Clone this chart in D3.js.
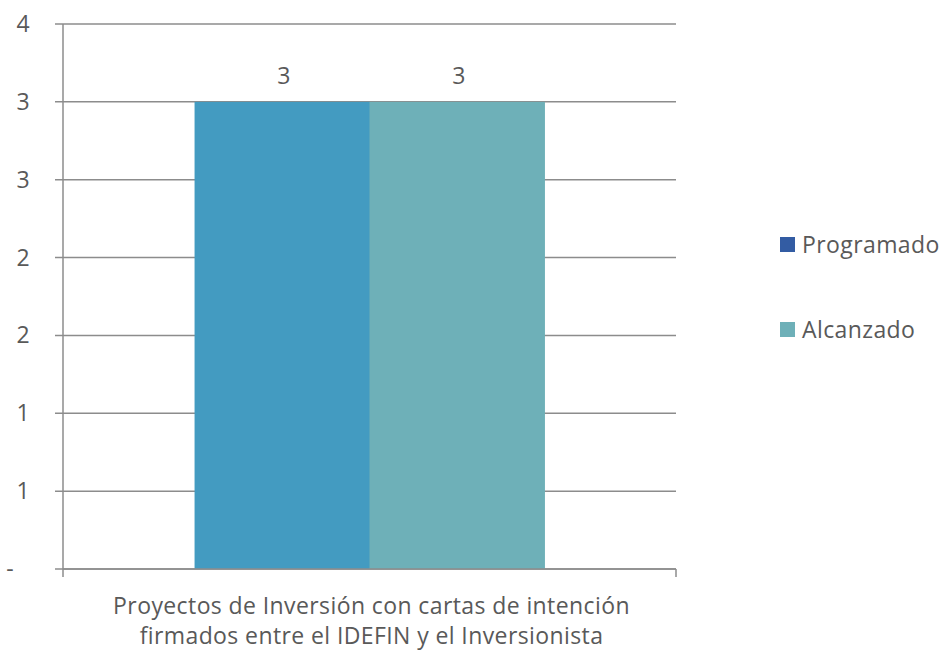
<!DOCTYPE html>
<html>
<head>
<meta charset="utf-8">
<script src="https://cdn.jsdelivr.net/npm/d3@7"></script>
<style>
  body { margin: 0; background: #fff; }
  text { font-family: "Open Sans", Lato, sans-serif; fill: #595959; letter-spacing: 0.4px; }
</style>
</head>
<body>
<div id="chart"></div>
<script>
// data
var categories = ["Proyectos de Inversión con cartas de intención firmados entre el IDEFIN y el Inversionista"];
var categoryLines = ["Proyectos de Inversión con cartas de intención", "firmados entre el IDEFIN y el Inversionista"];
var seriesNames = ["Programado", "Alcanzado"];
var programado = [3];
var alcanzado = [3];
var yTicks = [0, 0.5, 1, 1.5, 2, 2.5, 3, 3.5];
var barColors = ["#439BC1", "#6EB0B8"];
var legendColors = ["#335CA3", "#6EB0B8"];

var W = 946, H = 652;
var mLeft = 63, mRight = 676, mTop = 24, mBottom = 569;

var svg = d3.select("#chart")
  .append("svg")
    .attr("width", W)
    .attr("height", H);

var y = d3.scaleLinear().domain([0, 3.5]).range([mBottom, mTop]);
var x0 = d3.scaleBand().domain(categories).range([mLeft, mRight]).paddingInner(0).paddingOuter(0.376);
var x1 = d3.scaleBand().domain(seriesNames).range([0, x0.bandwidth()]);

// gridlines + y labels
var fmt = function(v) { return v === 0 ? "-" : String(Math.round(v + 1e-9)); };
svg.append("g")
  .selectAll("line")
  .data(yTicks)
  .enter()
  .append("line")
    .attr("x1", mLeft - 8)
    .attr("x2", mRight)
    .attr("y1", function(d) { return y(d); })
    .attr("y2", function(d) { return y(d); })
    .attr("stroke", "#8c8c8c")
    .attr("stroke-width", 1.5);

svg.append("g")
  .selectAll("text")
  .data(yTicks)
  .enter()
  .append("text")
    .attr("x", function(d) { return d === 0 ? 14 : 30; })
    .attr("y", function(d) { return y(d) + 8; })
    .attr("text-anchor", "end")
    .style("font-size", "23px")
    .text(fmt);

// bars
var rows = seriesNames.map(function(name, i) {
  return { name: name, value: (i === 0 ? programado : alcanzado)[0], color: barColors[i] };
});

svg.append("g")
  .selectAll("rect")
  .data(rows)
  .enter()
  .append("rect")
    .attr("x", function(d) { return x0(categories[0]) + x1(d.name); })
    .attr("width", x1.bandwidth() + 0.5)
    .attr("y", function(d) { return y(d.value); })
    .attr("height", function(d) { return y(0) - y(d.value); })
    .attr("fill", function(d) { return d.color; });

svg.append("g")
  .selectAll("text")
  .data(rows)
  .enter()
  .append("text")
    .attr("x", function(d) { return x0(categories[0]) + x1(d.name) + x1.bandwidth() / 2 + 2; })
    .attr("y", function(d) { return y(d.value) - 18; })
    .attr("text-anchor", "middle")
    .style("font-size", "23px")
    .text(function(d) { return d.value; });

// axes lines
svg.append("line")
  .attr("x1", mLeft).attr("x2", mLeft)
  .attr("y1", mTop).attr("y2", mBottom + 8)
  .attr("stroke", "#8c8c8c").attr("stroke-width", 1.5);
svg.append("line")
  .attr("x1", mLeft).attr("x2", mRight)
  .attr("y1", mBottom).attr("y2", mBottom)
  .attr("stroke", "#8c8c8c").attr("stroke-width", 1.5);
svg.append("line")
  .attr("x1", mRight).attr("x2", mRight)
  .attr("y1", mBottom).attr("y2", mBottom + 8)
  .attr("stroke", "#8c8c8c").attr("stroke-width", 1.5);

// category label
svg.append("text")
  .attr("text-anchor", "middle")
  .style("font-size", "23px")
  .selectAll("tspan")
  .data(categoryLines)
  .enter()
  .append("tspan")
    .attr("x", (mLeft + mRight) / 2 + 2)
    .attr("y", function(d, i) { return 614 + i * 30; })
    .text(function(d) { return d; });

// legend
var legend = svg.append("g")
  .selectAll("g")
  .data(seriesNames)
  .enter()
  .append("g")
    .attr("transform", function(d, i) { return "translate(780," + (237 + i * 85) + ")"; });

legend.append("rect")
  .attr("width", 15)
  .attr("height", 15)
  .attr("fill", function(d, i) { return legendColors[i]; });

legend.append("text")
  .attr("x", 22)
  .attr("y", 16)
  .style("font-size", "23px")
  .text(function(d) { return d; });
</script>
</body>
</html>
